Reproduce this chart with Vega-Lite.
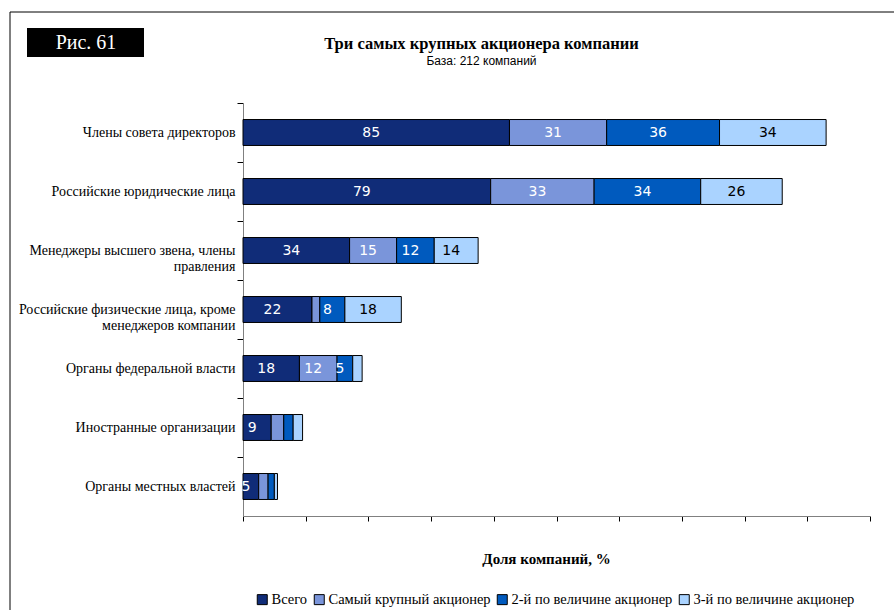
{
  "$schema": "https://vega.github.io/schema/vega-lite/v6.json",
  "width": 627,
  "height": 413,
  "autosize": {"type": "none"},
  "padding": {"left": 243, "top": 103, "right": 24, "bottom": 94},
  "background": "white",
  "config": {"view": {"stroke": null}, "font": "Liberation Serif"},
  "title": {
    "text": "Три самых крупных акционера компании",
    "subtitle": "База: 212 компаний",
    "font": "Liberation Serif",
    "fontSize": 16.5,
    "fontWeight": "bold",
    "color": "black",
    "subtitleFont": "Liberation Sans",
    "subtitleFontSize": 12,
    "subtitleColor": "black",
    "subtitlePadding": 3,
    "anchor": "middle",
    "frame": "group",
    "dx": -75,
    "offset": -55
  },
  "data": {
    "values": [
      {"cat": "Члены совета директоров", "s": "Всего", "k": 0, "v": 85},
      {"cat": "Члены совета директоров", "s": "Самый крупный акционер", "k": 1, "v": 31},
      {"cat": "Члены совета директоров", "s": "2-й по величине акционер", "k": 2, "v": 36},
      {"cat": "Члены совета директоров", "s": "3-й по величине акционер", "k": 3, "v": 34},
      {"cat": "Российские юридические лица", "s": "Всего", "k": 0, "v": 79},
      {"cat": "Российские юридические лица", "s": "Самый крупный акционер", "k": 1, "v": 33},
      {"cat": "Российские юридические лица", "s": "2-й по величине акционер", "k": 2, "v": 34},
      {"cat": "Российские юридические лица", "s": "3-й по величине акционер", "k": 3, "v": 26},
      {"cat": "Менеджеры высшего звена, члены правления", "s": "Всего", "k": 0, "v": 34},
      {"cat": "Менеджеры высшего звена, члены правления", "s": "Самый крупный акционер", "k": 1, "v": 15},
      {"cat": "Менеджеры высшего звена, члены правления", "s": "2-й по величине акционер", "k": 2, "v": 12},
      {"cat": "Менеджеры высшего звена, члены правления", "s": "3-й по величине акционер", "k": 3, "v": 14},
      {"cat": "Российские физические лица, кроме менеджеров компании", "s": "Всего", "k": 0, "v": 22},
      {"cat": "Российские физические лица, кроме менеджеров компании", "s": "Самый крупный акционер", "k": 1, "v": 2.5},
      {"cat": "Российские физические лица, кроме менеджеров компании", "s": "2-й по величине акционер", "k": 2, "v": 8},
      {"cat": "Российские физические лица, кроме менеджеров компании", "s": "3-й по величине акционер", "k": 3, "v": 18},
      {"cat": "Органы федеральной власти", "s": "Всего", "k": 0, "v": 18},
      {"cat": "Органы федеральной власти", "s": "Самый крупный акционер", "k": 1, "v": 12},
      {"cat": "Органы федеральной власти", "s": "2-й по величине акционер", "k": 2, "v": 5},
      {"cat": "Органы федеральной власти", "s": "3-й по величине акционер", "k": 3, "v": 3},
      {"cat": "Иностранные организации", "s": "Всего", "k": 0, "v": 9},
      {"cat": "Иностранные организации", "s": "Самый крупный акционер", "k": 1, "v": 4},
      {"cat": "Иностранные организации", "s": "2-й по величине акционер", "k": 2, "v": 3},
      {"cat": "Иностранные организации", "s": "3-й по величине акционер", "k": 3, "v": 3},
      {"cat": "Органы местных властей", "s": "Всего", "k": 0, "v": 5},
      {"cat": "Органы местных властей", "s": "Самый крупный акционер", "k": 1, "v": 3},
      {"cat": "Органы местных властей", "s": "2-й по величине акционер", "k": 2, "v": 2},
      {"cat": "Органы местных властей", "s": "3-й по величине акционер", "k": 3, "v": 1}
    ]
  },
  "layer": [
    {
      "transform": [
        {"stack": "v", "groupby": ["cat"], "sort": [{"field": "k", "order": "ascending"}], "as": ["x0", "x1"]}
      ],
      "mark": {"type": "bar", "stroke": "black", "strokeWidth": 1},
      "encoding": {
        "x": {
          "field": "x0",
          "type": "quantitative",
          "scale": {"domain": [0, 200], "nice": false},
          "axis": {
            "title": "Доля компаний, %",
            "titleFont": "Liberation Serif",
            "titleFontSize": 15,
            "titleFontWeight": "bold",
            "titleColor": "black",
            "titlePadding": 30,
            "titleX": 303,
            "labels": false,
            "values": [0, 20, 40, 60, 80, 100, 120, 140, 160, 180, 200],
            "grid": false,
            "tickSize": 5,
            "tickColor": "black",
            "domainColor": "#808080"
          }
        },
        "x2": {"field": "x1"},
        "y": {
          "field": "cat",
          "type": "nominal",
          "sort": [
            "Члены совета директоров",
            "Российские юридические лица",
            "Менеджеры высшего звена, члены правления",
            "Российские физические лица, кроме менеджеров компании",
            "Органы федеральной власти",
            "Иностранные организации",
            "Органы местных властей"
          ],
          "scale": {"paddingInner": 0.56, "paddingOuter": 0.28},
          "axis": {
            "title": null,
            "labelFont": "Liberation Serif",
            "labelFontSize": 14,
            "labelColor": "black",
            "labelLimit": 300,
            "labelPadding": 2,
            "labelLineHeight": 16,
            "tickSize": 6,
            "tickColor": "black",
            "tickOffset": -29.5,
            "labelOffset": 29.5,
            "domainColor": "#808080",
            "labelExpr": "datum.value == 'Менеджеры высшего звена, члены правления' ? ['Менеджеры высшего звена, члены', 'правления'] : datum.value == 'Российские физические лица, кроме менеджеров компании' ? ['Российские физические лица, кроме', 'менеджеров компании'] : datum.value"
          }
        },
        "color": {
          "field": "s",
          "type": "nominal",
          "scale": {
            "domain": ["Всего", "Самый крупный акционер", "2-й по величине акционер", "3-й по величине акционер"],
            "range": ["#102c78", "#7a95da", "#005abe", "#aad3ff"]
          },
          "legend": {
            "title": null,
            "orient": "none",
            "legendX": 12,
            "legendY": 489,
            "direction": "horizontal",
            "symbolType": "square",
            "symbolSize": 100,
            "symbolStrokeColor": "black",
            "symbolStrokeWidth": 1,
            "labelFont": "Liberation Serif",
            "labelFontSize": 14.5,
            "labelColor": "black",
            "labelLimit": 400,
            "labelOffset": 2,
            "columnPadding": 4
          }
        }
      }
    },
    {
      "transform": [
        {"stack": "v", "groupby": ["cat"], "sort": [{"field": "k", "order": "ascending"}], "as": ["x0", "x1"]},
        {"calculate": "(datum.x0 + datum.x1) / 2", "as": "mid"},
        {"filter": "datum.v >= 5"}
      ],
      "mark": {"type": "text", "font": "DejaVu Sans", "fontSize": 14, "dx": -5, "baseline": "middle", "align": "center"},
      "encoding": {
        "x": {"field": "mid", "type": "quantitative"},
        "y": {"field": "cat", "type": "nominal", "sort": [
            "Члены совета директоров",
            "Российские юридические лица",
            "Менеджеры высшего звена, члены правления",
            "Российские физические лица, кроме менеджеров компании",
            "Органы федеральной власти",
            "Иностранные организации",
            "Органы местных властей"
          ]},
        "text": {"field": "v", "type": "quantitative"},
        "color": {"condition": {"test": "datum.k == 3", "value": "black"}, "value": "white"}
      }
    },
    {
      "data": {"values": [{"label": "Рис. 61"}]},
      "mark": {"type": "rect", "fill": "black"},
      "encoding": {"x": {"value": -216}, "x2": {"value": -99}, "y": {"value": -75}, "y2": {"value": -46}}
    },
    {
      "data": {"values": [{"label": "Рис. 61"}]},
      "mark": {"type": "text", "font": "Liberation Serif", "fontSize": 20, "color": "white", "align": "center", "baseline": "middle"},
      "encoding": {"x": {"value": -157}, "y": {"value": -60}, "text": {"field": "label"}}
    },
    {
      "data": {"values": [{"label": "frame"}]},
      "mark": {"type": "rect", "fill": null, "stroke": "black", "strokeWidth": 1},
      "encoding": {"x": {"value": -233}, "x2": {"value": 700}, "y": {"value": -91}, "y2": {"value": 600}}
    }
  ]
}
